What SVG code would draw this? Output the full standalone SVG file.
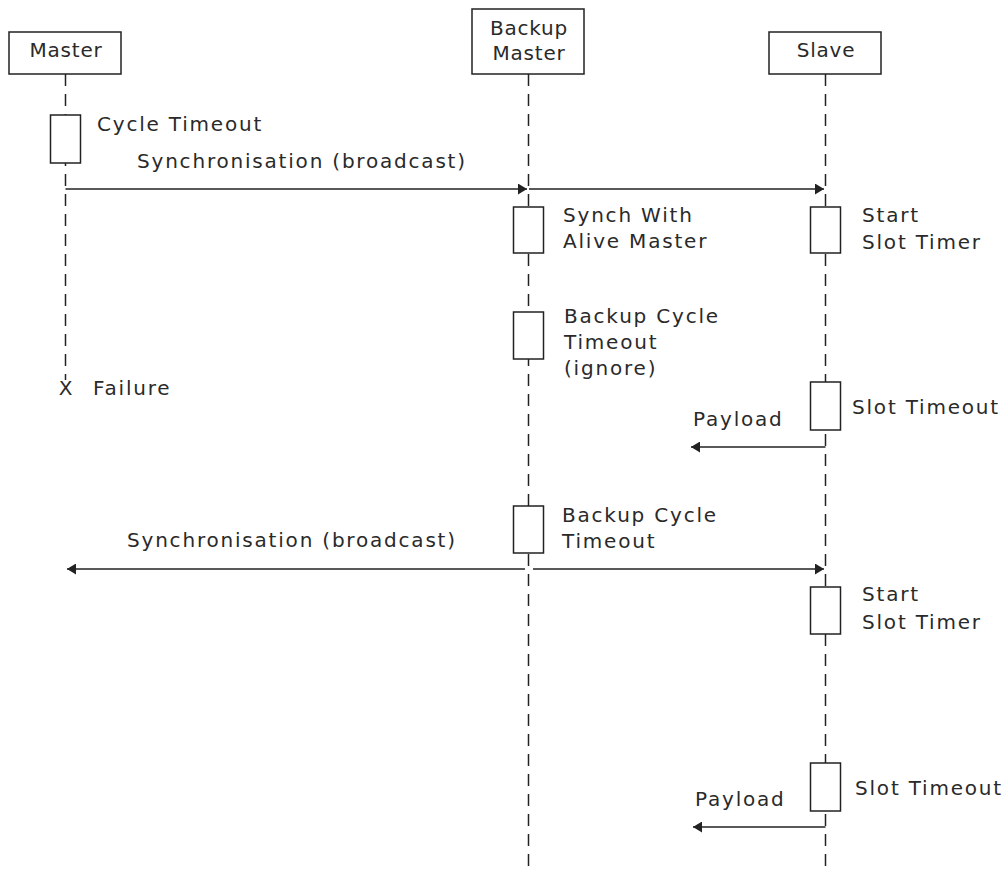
<svg xmlns="http://www.w3.org/2000/svg" width="1006" height="871" viewBox="0 0 1006 871">
  <style>
    text { font-family: "DejaVu Sans", "Liberation Sans", sans-serif; font-size: 20px; fill: #2a2a2a; letter-spacing: 1.8px; }
    .head { fill: #fff; stroke: #222; stroke-width: 1.5; }
    .act { fill: #fff; stroke: #222; stroke-width: 1.5; }
    .life { stroke: #222; stroke-width: 1.5; stroke-dasharray: 12 8; fill: none; }
    .msg { stroke: #222; stroke-width: 1.5; fill: none; marker-end: url(#arrow); }
    .c { text-anchor: middle; }
  </style>
  <defs>
    <marker id="arrow" viewBox="0 0 10 10" refX="10" refY="5" markerWidth="9" markerHeight="11" markerUnits="userSpaceOnUse" orient="auto" preserveAspectRatio="none">
      <path d="M0,0 L10,5 L0,10 Z" fill="#222"/>
    </marker>
  </defs>

  <!-- lifelines -->
  <g id="lifelines">
    <line class="life" x1="65.5" y1="74" x2="65.5" y2="380"/>
    <line class="life" x1="528.5" y1="74" x2="528.5" y2="871"/>
    <line class="life" x1="825.5" y1="74" x2="825.5" y2="871"/>
  </g>

  <!-- lifeline heads -->
  <g id="master">
    <rect class="head" x="9" y="32" width="112" height="42"/>
    <text class="c" x="66" y="57" style="letter-spacing:0.8px">Master</text>
  </g>
  <g id="backup-master">
    <rect class="head" x="472" y="9" width="112" height="65"/>
    <text class="c" x="529" y="35" style="letter-spacing:0.8px">Backup</text>
    <text class="c" x="529" y="60" style="letter-spacing:0.8px">Master</text>
  </g>
  <g id="slave">
    <rect class="head" x="769" y="32" width="112" height="42"/>
    <text class="c" x="826" y="57" style="letter-spacing:0.8px">Slave</text>
  </g>

  <!-- connectors -->
  <g id="connectors">
    <line class="msg" x1="65.5" y1="189" x2="527" y2="189"/>
    <line class="msg" x1="529" y1="189" x2="824" y2="189"/>
    <line class="msg" x1="825.5" y1="447" x2="691" y2="447"/>
    <line class="msg" x1="525" y1="569" x2="67" y2="569"/>
    <line class="msg" x1="533" y1="569" x2="824" y2="569"/>
    <line class="msg" x1="825.5" y1="827" x2="693" y2="827"/>
  </g>

  <text x="137" y="168">Synchronisation (broadcast)</text>
  <text x="693" y="426">Payload</text>
  <text x="127" y="547">Synchronisation (broadcast)</text>
  <text x="695" y="806">Payload</text>

  <!-- activations -->
  <g id="master-cycle-timeout">
    <rect class="act" x="50.5" y="115" width="30" height="48"/>
    <text x="97" y="131">Cycle Timeout</text>
  </g>
  <g id="master-failure">
    <text class="c" x="65.5" y="395" style="letter-spacing:0">X</text>
    <text x="93" y="395">Failure</text>
  </g>
  <g id="backup-synch">
    <rect class="act" x="513.5" y="207" width="30" height="46"/>
    <text x="563" y="222">Synch With</text>
    <text x="563" y="248">Alive Master</text>
  </g>
  <g id="backup-timeout-ignore">
    <rect class="act" x="513.5" y="312" width="30" height="47"/>
    <text x="564" y="323">Backup Cycle</text>
    <text x="564" y="349">Timeout</text>
    <text x="564" y="375">(ignore)</text>
  </g>
  <g id="backup-timeout">
    <rect class="act" x="513.5" y="506" width="30" height="47"/>
    <text x="562" y="522">Backup Cycle</text>
    <text x="562" y="548">Timeout</text>
  </g>
  <g id="slave-start-1">
    <rect class="act" x="810.5" y="207" width="30" height="46"/>
    <text x="862" y="222">Start</text>
    <text x="862" y="249">Slot Timer</text>
  </g>
  <g id="slave-timeout-1">
    <rect class="act" x="810.5" y="382" width="30" height="48"/>
    <text x="852" y="414">Slot Timeout</text>
  </g>
  <g id="slave-start-2">
    <rect class="act" x="810.5" y="587" width="30" height="47"/>
    <text x="862" y="601">Start</text>
    <text x="862" y="629">Slot Timer</text>
  </g>
  <g id="slave-timeout-2">
    <rect class="act" x="810.5" y="763" width="30" height="48"/>
    <text x="855" y="795">Slot Timeout</text>
  </g>
</svg>
